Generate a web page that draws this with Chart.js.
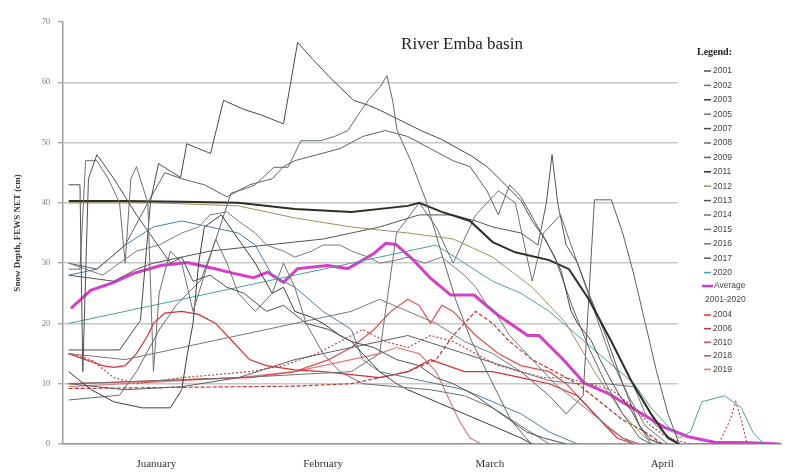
<!DOCTYPE html>
<html>
<head>
<meta charset="utf-8">
<script src="https://cdn.jsdelivr.net/npm/chart.js@4.4.0/dist/chart.umd.min.js"></script>
<style>
  body { margin: 0; background: #fff; }
</style>
</head>
<body>
<canvas id="snowChart" width="795" height="475"></canvas>
<script>
// x = days since 1 January, y = snow depth (cm)
const monthLabels = ['Juanuary', 'February', 'March', 'April'];
const monthCenters = [15.5, 45, 74.5, 105];

const y2001 = [[0,43],[2,43],[2.5,12],[3.5,44],[5,48],[8,44],[10,41],[12,38],[15,34],[18,30],[20,31],[22,27],[25,28],[28,26],[31,25],[35,22],[38,23],[42,20],[46,19],[50,17],[54,16],[58,14],[62,13],[65,11],[68,10],[72,8],[75,6],[78,4],[81,2],[84,1],[88,0]];
const y2002 = [[0,29],[2,29],[3,47],[5,47],[7,44],[9,40],[10,30],[11,44],[12,46],[14,40],[15,12],[16,25],[18,32],[20,30],[22,22],[24,28],[26,34],[28,30],[30,25],[33,22],[36,25],[38,30],[40,26],[42,20],[45,15],[48,12],[52,10],[58,9.5],[64,9],[70,8],[75,6],[80,3],[85,0]];
const y2003 = [[0,12],[4,9],[8,7],[13,6],[18,6],[20,9],[21,15],[22,20],[23,30],[24,36],[27,38],[30,34],[33,30],[36,25],[38,26],[40,22],[43,21],[45,20],[48,18],[50,17],[53,14],[55,12],[58,10],[60,9],[65,7],[70,5],[75,3],[80,1],[82,0]];
const y2005 = [[0,30],[3,29],[6,28],[9,30],[12,32],[16,33],[20,35],[23,36],[25,38],[28,38.5],[30,37],[33,35],[35,33],[38,32],[40,31],[43,32],[45,33],[48,33],[50,32],[53,31],[55,30],[58,30.5],[60,31],[63,30],[66,31],[70,28],[72,26],[74,23],[76,21],[78,18],[80,16],[82,14],[86,10],[90,7],[94,4],[98,1],[100,0]];
const y2007 = [[0,15.6],[9,15.6],[12.7,20.5],[14.5,40.4],[15.9,46.5],[19.8,44.2],[20.9,49.8],[25.1,48.2],[27.4,57],[31,55.5],[34,54.6],[38,53.1],[40.5,66.6],[43,64],[46,61],[50.4,57],[53,56.2],[55.2,55.3],[58,54],[62.3,52],[66,50.5],[71.2,47.8],[74,46],[76.5,43.7],[80,40.4],[82,37],[84.4,33.8],[87.1,28.8],[88.8,22.2],[90,20],[92.4,17.2],[94,14],[95.9,10.6],[97.5,8],[99.5,5.6],[101,3],[103,0.7],[105,0]];
const y2008 = [[0,7.3],[9,8.1],[12,12],[16,18.9],[19,23],[23.4,27.2],[26,33.8],[28.7,41.6],[31.7,42.5],[33,43],[36.3,45.9],[38.8,45.9],[41.1,50.3],[44.6,50.3],[47,51],[49.4,52],[51.7,55.3],[53,57],[55.2,59.4],[56.3,61.1],[57.3,57],[58.1,52],[60.5,47],[63.2,40.4],[65.8,32.1],[68.5,23.8],[71.2,17.2],[74.7,10.6],[78.2,4],[81.8,0]];
const y2009 = [[0,30],[5,29],[10,33],[14,40],[17,45],[20,44],[24,43],[28,41],[30,42],[32,43],[36,44],[38,46],[40,47],[44,48],[48,49],[50,50],[52,51],[56,52],[60,51],[64,49],[68,47],[71,46],[74,42],[76,38],[78,43],[80,41],[83,36],[86,31],[89,23],[92,16],[95,10],[98,5],[101,1],[103,0]];
const y2011 = [[0,40.3],[10,40.3],[20,40.2],[30,40],[40,39],[50,38.5],[60,39.5],[62,40],[66,38.5],[71,37],[75,33.5],[79,31.8],[85,30.5],[88.5,29],[92,24],[96,17],[99.5,10.5],[103,5],[106,1],[108,0]];
const y2012 = [[0,40],[15,40],[30,39.5],[40,37.5],[50,36],[60,35],[68,34],[75,31],[82,26],[88,20],[93,12],[98,5],[102,1],[105,0]];
const y2013 = [[0,28],[8,27],[12,29],[15,30],[20,31],[25,32],[30,32.5],[35,33],[40,33.5],[45,34],[50,35],[55,36],[62,38],[68,38],[72,37],[75,36],[80,35],[83,33],[84.5,40],[85.5,48],[86.5,40],[88,33],[90,30],[92,25],[95,18],[98,10],[101,3],[103,0]];
const y2014 = [[0,10],[15,10.5],[30,11],[40,11.5],[50,12],[55,15],[58,35],[62,40],[65,36],[68,30],[72,38],[76,42],[79,40],[82,27],[84,35],[87,38],[90,30],[93,22],[96,14],[99,8],[102,3],[106,0]];
const y2015 = [[0,28],[5,29],[10,33],[15,36],[20,37],[25,36],[30,35],[33,33],[36,28],[40,26],[45,22],[50,19],[52,14],[55,12],[60,11],[65,10],[70,9],[75,7],[80,5],[85,2],[90,0]];
const y2016 = [[0,15],[10,14],[20,16],[30,18],[40,20],[50,22],[55,24],[60,22],[65,20],[70,17],[75,15],[80,12],[85,10.5],[90,10],[95,10],[100,9.5],[102,5],[105,2],[108,0]];
const y2017 = [[0,10],[10,9],[20,9.5],[30,11],[40,14],[50,16],[60,18],[70,15],[80,12],[85,8],[88,5],[91,8],[93,40.5],[96,40.5],[98,35],[100,28],[102,20],[104,12],[106,5],[108,0]];
const y2020 = [[0,20],[10,22],[20,24],[30,26],[40,28],[50,30],[60,32],[65,33],[70,30],[75,27],[80,25],[85,22],[90,18],[95,14],[100,10],[103,6],[106,3],[108,1],[110,2],[112,7],[116,8],[119,6],[121,2],[123,0]];

const average = [[0.4,22.5],[3.9,25.5],[8,26.8],[11.5,28.3],[16.3,29.6],[21,30.1],[25.7,29.1],[29.2,28.3],[32.7,27.6],[35.2,28.5],[38,26.8],[40.5,29.1],[45.8,29.6],[49.4,29.1],[54,31.6],[56.1,33.3],[57.9,33.1],[61,30.5],[64,27.5],[67.6,24.7],[71.7,24.7],[75.9,21.4],[81.2,18],[83.2,18],[87.6,13.9],[91.2,10.1],[95.4,8.4],[99.5,6.1],[105.3,2.8],[109.6,1.2],[114.2,0.3],[120.7,0.2],[125.7,0]];

const y2004 = [[0,15],[3,14],[6,13],[8,12.7],[10,13],[12,15],[14,18],[15,20],[17,21.7],[20,22],[23,21.5],[26,20],[29,17],[32,14],[35,13],[40,12.3],[45,12],[50,11.5],[55,11],[60,12],[64,14],[67,13],[70,12],[75,12],[80,11],[85,10],[90,8],[94,4],[97,1],[100,0]];
const y2006 = [[0,9.2],[10,9.3],[20,9.4],[30,9.5],[40,9.6],[50,10],[55,11],[60,12],[65,14],[68,18],[70,20],[72,22],[75,20],[78,17],[82,14],[86,12],[90,10],[94,7],[98,4],[102,2],[105,0]];
const y2010 = [[0,10],[8,10.2],[16,10.5],[24,10.8],[32,11],[40,12],[46,14],[50,16],[54,19],[57,22],[60,24],[62,23],[64,20],[66,23],[68,22],[72,18],[76,15],[80,13],[85,12],[88,10],[92,6],[95,3],[98,1],[101,0]];
const y2018 = [[0,15],[4,14],[8,11],[12,10],[16,10.5],[20,11],[26,11.5],[32,12],[38,13],[44,15],[48,17],[52,19],[56,17],[60,16],[64,18],[68,17],[72,15],[76,13],[80,12],[84,11],[88,11],[92,10],[96,9],[100,6],[103,3],[106,1],[110,0],[115,0],[117,4],[118,7],[119,4],[120,0]];
const y2019 = [[0,9.5],[10,10],[20,10.5],[30,11],[40,12],[45,13],[50,14],[55,15],[58,16],[62,15],[65,12],[67,8],[69,4],[71,1],[73,0],[95,0]];

const grayYears = ['2001','2002','2003','2005','2007','2008','2009','2011','2012','2013','2014','2015','2016','2017','2020'];
const graySeries = [y2001, y2002, y2003, y2005, y2007, y2008, y2009, y2011, y2012, y2013, y2014, y2015, y2016, y2017, y2020];
const redYears = ['2004','2006','2010','2018','2019'];
const redSeries = [y2004, y2006, y2010, y2018, y2019];

const grayColors = ['#505050','#6e6e6e','#3c3c3c','#7a7a7a','#4a4a4a','#5c6b6b','#606060','#2e2e24','#a09060','#555555','#707070','#4f7f9f','#777777','#5f5f5f','#4aa0a0'];
const redColors = ['#d83030','#c43030','#e05050','#c04848','#e37a7a'];
const redDashes = [[], [4, 2], [], [2, 2], []];
const avgColor = '#d63dc8';

const toXY = arr => arr.map(p => ({ x: p[0], y: p[1] }));

const datasets = [];
graySeries.forEach((s, i) => {
    datasets.push({
        label: grayYears[i], data: toXY(s),
        borderColor: grayColors[i], borderWidth: i === 7 ? 2 : 1
    });
});
redSeries.forEach((s, i) => {
    datasets.push({
        label: redYears[i], data: toXY(s),
        borderColor: redColors[i], borderWidth: 1.2, borderDash: redDashes[i]
    });
});
datasets.push({
    label: 'Average 2001-2020', data: toXY(average),
    borderColor: avgColor, borderWidth: 3
});

// Title inside the plot, plus the legend box that hides the right edge of the plot
const decorations = {
    id: 'decorations',
    afterDatasetsDraw(chart) {
        const c = chart.ctx;
        c.save();
        c.fillStyle = '#fff';
        c.fillRect(678, 34, 117, 354);

        c.textBaseline = 'middle';
        c.fillStyle = '#222';
        c.font = 'bold 10px "Liberation Serif", serif';
        c.fillText('Legend:', 697, 52);

        c.font = '8.5px "Liberation Sans", Arial, sans-serif';
        const item = (color, label, y, width) => {
            c.strokeStyle = color;
            c.lineWidth = width;
            c.beginPath();
            c.moveTo(704, y);
            c.lineTo(711, y);
            c.stroke();
            c.fillStyle = '#444';
            c.fillText(label, 713, y);
        };
        grayYears.forEach((y, i) => item(grayColors[i], y, 71 + i * 14.4, 1.5));

        c.strokeStyle = avgColor;
        c.lineWidth = 2.5;
        c.beginPath();
        c.moveTo(702, 286);
        c.lineTo(713, 286);
        c.stroke();
        c.fillStyle = '#444';
        c.fillText('Average', 714, 286);
        c.fillText('2001-2020', 705, 300);

        redYears.forEach((y, i) => item(redColors[i], y, 315 + i * 13.6, 1.5));
        c.restore();
    },
    afterDraw(chart) {
        const c = chart.ctx;
        c.save();
        c.font = '17px "Liberation Serif", serif';
        c.fillStyle = '#222';
        c.textAlign = 'center';
        c.textBaseline = 'middle';
        c.fillText('River Emba basin', 462, 45);
        c.restore();
    }
};

const chartCtx = document.getElementById('snowChart').getContext('2d');
new Chart(chartCtx, {
    type: 'line',
    data: { datasets: datasets },
    options: {
        responsive: false,
        animation: false,
        layout: { padding: { left: 8, right: 14, top: 22, bottom: 0 } },
        elements: { point: { radius: 0 }, line: { tension: 0 } },
        plugins: { legend: { display: false }, tooltip: { enabled: false } },
        scales: {
            x: {
                type: 'linear', min: -1, max: 126,
                grid: { display: false, drawTicks: false },
                border: { display: true, color: '#9a9a9a', width: 1.5, dash: [2, 2] },
                afterBuildTicks: scale => { scale.ticks = monthCenters.map(v => ({ value: v })); },
                afterFit: scale => { scale.height = 31; },
                ticks: {
                    autoSkip: false, maxRotation: 0, padding: 14,
                    font: { family: '"Liberation Serif", serif', size: 11 }, color: '#333',
                    callback: (v, i) => monthLabels[i]
                }
            },
            y: {
                min: 0, max: 70,
                grid: {
                    color: c => (c.tick && c.tick.value === 70) ? 'rgba(0,0,0,0)' : '#c8c8c8',
                    tickColor: '#aaa', lineWidth: 1.4, tickLength: 5
                },
                border: { color: '#a0a0a0', width: 1.5 },
                afterFit: scale => { scale.width = 55; },
                ticks: {
                    stepSize: 10, padding: 8,
                    font: { family: '"Liberation Serif", serif', size: 8 }, color: '#777'
                },
                title: {
                    display: true, text: 'Snow Depth, FEWS NET (cm)', padding: 4,
                    font: { family: '"Liberation Serif", serif', size: 9, weight: 'bold' }, color: '#333'
                }
            }
        }
    },
    plugins: [decorations]
});
</script>
</body>
</html>
